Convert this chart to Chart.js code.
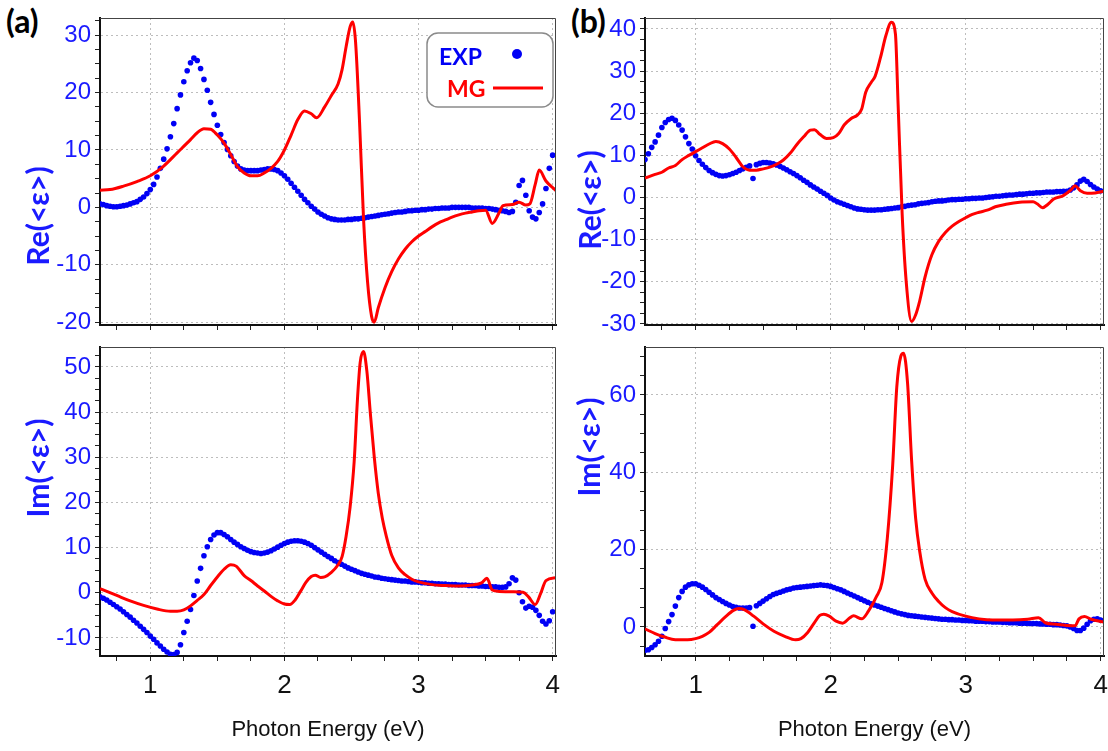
<!DOCTYPE html>
<html>
<head>
<meta charset="utf-8">
<script src="https://cdn.jsdelivr.net/npm/chart.js@4.4.1/dist/chart.umd.min.js"></script>
<style>
  body { margin: 0; background: #fff; width: 1108px; height: 751px; position: relative; overflow: hidden; }
  .panel { position: absolute; }
  .tag { position: absolute; font: bold 32px Lato, "Open Sans", sans-serif; color: #000; }
</style>
</head>
<body>
<div class="tag" style="left:6px;top:1px">(a)</div>
<div class="tag" style="left:571px;top:1px">(b)</div>
<div class="panel" style="left:0;top:0"><canvas id="reA" width="560" height="333"></canvas></div>
<div class="panel" style="left:0;top:335px"><canvas id="imA" width="560" height="416"></canvas></div>
<div class="panel" style="left:560px;top:0"><canvas id="reB" width="548" height="333"></canvas></div>
<div class="panel" style="left:560px;top:335px"><canvas id="imB" width="548" height="416"></canvas></div>

<script>
// photon energies of the measured (EXP) points, eV
var ENERGY = [0.625,0.65,0.675,0.7,0.725,0.75,0.775,0.8,0.825,0.85,0.875,0.9,0.925,0.95,0.975,
  1,1.025,1.05,1.075,1.1,1.125,1.15,1.175,1.2,1.225,1.25,1.275,1.3,1.325,1.35,1.375,1.4,1.425,1.45,1.475,
  1.5,1.525,1.55,1.575,1.6,1.625,1.65,1.675,1.7,1.725,1.75,1.775,1.8,1.825,1.85,1.875,1.9,1.925,1.95,1.975,
  2,2.025,2.05,2.075,2.1,2.125,2.15,2.175,2.2,2.225,2.25,2.275,2.3,2.325,2.35,2.375,2.4,2.425,2.45,2.475,
  2.5,2.525,2.55,2.575,2.6,2.625,2.65,2.675,2.7,2.725,2.75,2.775,2.8,2.825,2.85,2.875,2.9,2.925,2.95,2.975,
  3,3.025,3.05,3.075,3.1,3.125,3.15,3.175,3.2,3.225,3.25,3.275,3.3,3.325,3.35,3.375,3.4,3.425,3.45,3.475,
  3.5,3.525,3.55,3.575,3.6,3.625,3.65,3.675,3.7,3.725,3.75,3.775,3.8,3.825,3.85,3.875,3.9,3.925,3.95,3.975,
  4];

// (a) Re<eps>, experiment
var EXP_RE_A = [0.6,0.5,0.3,0.2,0.1,0.1,0.2,0.3,0.4,0.6,0.8,1.0,1.4,1.8,2.4,
  3.1,4.0,5.3,6.8,8.4,10.2,12.3,14.6,17.2,19.6,21.9,23.8,25.2,26.0,25.6,24.2,22.3,20.4,18.3,16.2,
  14.3,12.7,11.3,10.1,9.0,8.0,7.2,6.7,6.5,6.4,6.4,6.4,6.4,6.5,6.6,6.7,6.7,6.6,6.4,6.0,
  5.5,4.9,4.2,3.5,2.8,2.1,1.4,0.8,0.2,-0.3,-0.8,-1.2,-1.5,-1.8,-2.0,-2.1,-2.2,-2.2,-2.2,-2.1,
  -2.1,-2.0,-2.0,-1.9,-1.8,-1.7,-1.6,-1.5,-1.4,-1.3,-1.2,-1.1,-1.0,-0.9,-0.8,-0.8,-0.7,-0.6,-0.6,-0.5,
  -0.5,-0.4,-0.4,-0.3,-0.3,-0.2,-0.2,-0.1,-0.1,-0.1,0.0,0.0,0.0,0.0,0.0,0.0,-0.1,-0.1,-0.1,-0.1,
  -0.2,-0.2,-0.3,-0.4,-0.5,-0.6,-0.7,-0.9,-0.7,0.9,3.8,4.7,2.1,-0.6,-1.7,-2.0,-0.9,0.6,3.3,6.8,
  9.1];

// (a) Im<eps>, experiment
var EXP_IM_A = [-0.9,-1.2,-1.6,-2.1,-2.6,-3.1,-3.6,-4.2,-4.8,-5.4,-6.1,-6.7,-7.4,-8.1,-8.8,
  -9.6,-10.3,-11.1,-11.8,-12.5,-13.1,-13.6,-13.7,-13.2,-11.5,-8.8,-6.3,-3.7,-0.6,2.6,5.4,8.2,10.2,11.8,12.8,
  13.3,13.3,12.9,12.4,11.8,11.2,10.7,10.2,9.8,9.4,9.1,8.9,8.8,8.7,8.8,9.0,9.3,9.7,10.1,10.5,
  10.9,11.2,11.4,11.5,11.5,11.4,11.2,10.9,10.5,10.0,9.5,9.0,8.5,8.0,7.6,7.1,6.7,6.3,5.9,5.5,
  5.2,4.9,4.6,4.3,4.1,3.9,3.7,3.5,3.4,3.2,3.1,3.0,2.9,2.8,2.7,2.6,2.6,2.5,2.4,2.4,
  2.3,2.2,2.2,2.1,2.1,2.0,2.0,1.9,1.9,1.8,1.8,1.8,1.7,1.7,1.7,1.6,1.6,1.6,1.5,1.5,
  1.4,1.4,1.3,1.3,1.2,1.2,1.3,2.0,3.3,2.8,0.0,-2.0,-3.4,-3.0,-3.2,-3.9,-5.0,-6.3,-6.9,-6.2,
  -4.2];

// (b) Re<eps>, experiment
var EXP_RE_B = [9.0,10.4,11.9,13.2,14.8,16.6,17.8,18.5,18.8,18.3,17.2,16.0,14.4,12.8,11.5,
  9.9,8.8,7.9,7.1,6.4,5.9,5.5,5.2,5.1,5.2,5.4,5.7,6.0,6.4,6.8,7.2,7.5,4.5,7.8,8.1,
  8.3,8.3,8.2,8.0,7.7,7.4,7.0,6.6,6.1,5.7,5.2,4.7,4.1,3.6,3.0,2.5,2.0,1.5,1.0,0.5,
  -0.1,-0.6,-1.0,-1.3,-1.6,-1.9,-2.2,-2.5,-2.7,-2.8,-2.9,-3.0,-3.0,-3.0,-2.9,-2.9,-2.8,-2.7,-2.6,-2.5,
  -2.4,-2.2,-2.1,-1.9,-1.8,-1.7,-1.5,-1.4,-1.3,-1.2,-1.0,-0.9,-0.8,-0.8,-0.7,-0.6,-0.5,-0.5,-0.4,-0.4,
  -0.3,-0.3,-0.2,-0.2,-0.1,-0.1,0.0,0.1,0.2,0.3,0.3,0.4,0.5,0.6,0.6,0.7,0.8,0.8,0.9,1.0,
  1.0,1.1,1.1,1.2,1.3,1.3,1.3,1.4,1.4,1.5,1.5,1.8,2.3,3.0,3.9,4.3,3.8,3.1,2.5,2.0,
  1.6];

// (b) Im<eps>, experiment
var EXP_IM_B = [-6.0,-5.9,-5.3,-4.6,-3.7,-2.4,-0.4,1.4,3.2,5.4,7.6,9.2,10.3,10.9,11.2,
  11.2,10.8,10.3,9.7,9.0,8.3,7.6,7.1,6.6,6.1,5.7,5.3,5.1,4.9,4.9,4.9,5.0,0.2,5.5,6.1,
  6.7,7.3,7.9,8.4,8.7,9.0,9.3,9.6,9.8,10.1,10.2,10.3,10.4,10.5,10.6,10.7,10.8,10.9,10.8,10.7,
  10.5,10.2,9.9,9.6,9.2,8.8,8.4,8.0,7.6,7.2,6.8,6.4,6.0,5.7,5.4,5.1,4.8,4.5,4.2,3.9,
  3.6,3.4,3.2,3.0,2.9,2.8,2.7,2.6,2.5,2.4,2.3,2.2,2.1,2.0,2.0,1.9,1.9,1.8,1.8,1.7,
  1.7,1.6,1.6,1.5,1.5,1.5,1.4,1.4,1.3,1.3,1.3,1.2,1.2,1.1,1.1,1.1,1.0,1.0,1.0,0.9,
  0.9,0.9,0.8,0.8,0.7,0.7,0.6,0.6,0.5,0.4,0.3,0.0,-0.4,-0.9,-0.9,-0.3,0.7,1.6,2.0,2.1,
  1.8];

// Maxwell-Garnett model curves
var MG_RE_A_X = [0.625,0.7,0.8,0.9,1.0,1.1,1.2,1.3,1.35,1.4,1.45,1.5,1.55,1.6,1.65,1.7,1.75,1.8,1.85,1.9,
  1.95,2.0,2.05,2.1,2.15,2.2,2.24,2.3,2.35,2.4,2.43,2.46,2.49,2.51,2.53,2.56,2.59,2.62,2.65,2.67,
  2.7,2.75,2.8,2.85,2.9,2.95,3.0,3.05,3.1,3.15,3.2,3.25,3.3,3.35,3.4,3.45,3.5,3.55,3.6,3.63,
  3.7,3.75,3.8,3.83,3.87,3.9,3.95,4.025];
var MG_RE_A_Y = [3.0,3.1,3.7,4.5,5.5,7.2,9.5,11.8,13.0,13.7,13.6,12.6,11.2,9.2,7.1,6.0,5.5,5.5,6.0,6.8,
  8.0,10.0,12.6,15.3,16.8,16.3,15.6,17.5,19.5,21.5,24.0,28.0,31.5,32.3,29.0,15.0,-2.0,-13.0,-19.0,-20.0,
  -17.5,-14.0,-11.2,-9.0,-7.3,-6.0,-5.0,-4.2,-3.4,-2.7,-2.2,-1.7,-1.3,-1.0,-0.8,-0.6,-0.5,-2.8,-1.0,0.3,
  0.5,0.9,0.4,0.6,4.0,6.5,4.6,2.9];

var MG_IM_A_X = [0.625,0.75,0.85,0.95,1.05,1.15,1.2,1.25,1.3,1.35,1.4,1.45,1.5,1.55,1.6,1.64,1.7,1.75,1.8,1.85,
  1.9,1.95,2.0,2.04,2.08,2.12,2.16,2.2,2.23,2.27,2.3,2.35,2.4,2.43,2.46,2.49,2.52,2.545,2.565,2.59,
  2.615,2.64,2.67,2.7,2.73,2.76,2.8,2.85,2.9,2.95,3.0,3.1,3.2,3.3,3.4,3.47,3.51,3.55,3.6,3.7,
  3.78,3.82,3.87,3.91,3.95,4.025];
var MG_IM_A_Y = [0.9,-0.6,-1.8,-2.8,-3.6,-4.1,-4.1,-3.8,-2.9,-1.7,-0.4,1.6,3.5,5.2,6.2,5.9,3.8,2.7,1.5,0.4,
  -0.8,-1.8,-2.5,-2.6,-1.6,0.3,2.3,3.6,3.9,3.4,3.5,4.5,6.2,8.0,12.5,19.0,29.0,43.0,51.0,53.4,
  49.0,40.0,30.0,22.0,16.5,12.5,8.3,5.5,4.0,3.0,2.4,1.8,1.6,1.5,1.7,2.2,3.2,0.6,0.3,0.2,
  0.1,-0.9,-2.6,-0.2,2.7,3.3];

var MG_RE_B_X = [0.625,0.7,0.75,0.8,0.85,0.9,0.95,1.0,1.05,1.1,1.15,1.2,1.25,1.3,1.35,1.4,1.45,1.5,1.55,1.6,
  1.65,1.7,1.75,1.8,1.85,1.88,1.92,1.97,2.02,2.06,2.1,2.15,2.2,2.23,2.26,2.3,2.33,2.37,2.41,2.45,
  2.48,2.5,2.53,2.56,2.6,2.63,2.66,2.7,2.75,2.8,2.85,2.9,2.95,3.0,3.05,3.1,3.16,3.22,3.3,3.4,
  3.5,3.53,3.57,3.61,3.65,3.72,3.78,3.81,3.85,3.9,3.96,4.025];
var MG_RE_B_Y = [4.6,5.5,6.0,7.0,7.6,9.0,10.0,10.9,11.8,12.7,13.3,12.8,11.5,9.5,7.3,6.5,6.5,6.8,7.2,7.9,
  8.9,10.5,12.6,14.4,16.0,16.1,15.0,14.0,14.2,15.2,17.2,18.7,19.6,21.0,25.0,27.3,28.8,33.3,38.5,41.6,
  38.8,22.0,-4.0,-20.0,-29.4,-27.8,-24.5,-18.8,-13.6,-10.4,-8.3,-6.8,-5.7,-4.8,-4.0,-3.5,-3.0,-2.2,-1.6,-1.1,
  -1.0,-1.5,-2.4,-1.6,-0.4,0.4,1.8,2.8,1.6,1.0,1.1,1.5];

var MG_IM_B_X = [0.625,0.7,0.77,0.85,0.94,1.0,1.05,1.1,1.16,1.22,1.28,1.32,1.36,1.43,1.5,1.58,1.66,1.74,1.78,1.83,
  1.87,1.92,1.95,1.99,2.04,2.09,2.14,2.17,2.23,2.28,2.34,2.38,2.42,2.46,2.49,2.52,2.54,2.57,2.6,2.63,
  2.66,2.7,2.75,2.8,2.85,2.9,3.0,3.1,3.2,3.35,3.46,3.54,3.59,3.67,3.75,3.81,3.84,3.88,3.93,4.025];
var MG_IM_B_Y = [-0.5,-1.7,-2.6,-3.3,-3.3,-3.0,-2.4,-1.4,0.6,2.6,4.3,4.8,4.5,2.8,0.8,-1.1,-2.4,-3.3,-3.0,-1.4,
  0.6,3.0,3.3,2.8,1.5,1.0,2.3,2.9,2.1,4.1,7.9,11.5,23.0,42.0,62.0,70.0,70.8,63.0,43.0,28.0,
  19.5,12.3,8.8,6.6,5.0,4.0,2.8,2.1,1.8,1.8,2.0,2.4,1.1,0.7,0.4,0.3,2.1,2.7,2.0,1.3];

// axis labels
var X_MAJOR = [1, 2, 3, 4];
var Y_MAJOR_RE_A = [-20, -10, 0, 10, 20, 30];
var Y_MAJOR_IM_A = [-10, 0, 10, 20, 30, 40, 50];
var Y_MAJOR_RE_B = [-30, -20, -10, 0, 10, 20, 30, 40];
var Y_MAJOR_IM_B = [0, 20, 40, 60];

var BLUE = '#0000f5';
var BLUE_TEXT = '#1a1aff';
var RED = '#ff0000';
var GRID = '#bdbdbd';
var NARROW = "'Liberation Sans Narrow', 'Arial Narrow', 'Liberation Sans', sans-serif";

function tickList(lo, hi, step) {
    var t = [];
    for (var v = lo; v <= hi + 1e-9; v += step) t.push(Math.round(v * 1000) / 1000);
    return t;
}

function pairs(xs, ys) {
    return xs.map(function(x, i) { return {x: x, y: ys[i]}; });
}

// frame, rotated y title and (optionally) the legend box
var decor = {
    id: 'decor',
    afterDraw: function(chart, args, o) {
        var ctx = chart.ctx, a = chart.chartArea;
        ctx.save();
        ctx.strokeStyle = '#444';
        ctx.lineWidth = 1;
        ctx.beginPath();
        ctx.moveTo(a.left, a.top + 0.5);
        ctx.lineTo(a.right - 0.5, a.top + 0.5);
        ctx.lineTo(a.right - 0.5, a.bottom);
        ctx.stroke();

        if (o.legend) {
            ctx.strokeStyle = '#8a8a8a';
            ctx.lineWidth = 1.5;
            ctx.fillStyle = '#fff';
            ctx.beginPath();
            ctx.roundRect(427, 33, 126, 74, 11);
            ctx.fill();
            ctx.stroke();
            ctx.font = 'bold 23px Lato, sans-serif';
            ctx.textBaseline = 'alphabetic';
            ctx.textAlign = 'left';
            ctx.fillStyle = BLUE;
            ctx.fillText('EXP', 439, 65);
            ctx.beginPath();
            ctx.arc(517, 54, 5, 0, Math.PI * 2);
            ctx.fill();
            ctx.fillStyle = RED;
            ctx.fillText('MG', 447, 97);
            ctx.strokeStyle = RED;
            ctx.lineWidth = 3;
            ctx.beginPath();
            ctx.moveTo(493, 88);
            ctx.lineTo(543, 88);
            ctx.stroke();
        }

        ctx.translate(o.titleX, o.titleY);
        ctx.rotate(-Math.PI / 2);
        ctx.font = 'bold 30px Lato, sans-serif';
        ctx.fillStyle = BLUE_TEXT;
        ctx.textAlign = 'center';
        ctx.textBaseline = 'middle';
        ctx.fillText(o.title, 0, 0);
        ctx.restore();
    }
};

function makePanel(id, p) {
    var yTicks = tickList(p.yLo, p.yHi, p.yStep);
    var xTicks = tickList(0.75, 4, 0.25);
    var gridColor = function(major) {
        return function(c) {
            return c.tick && major.indexOf(c.tick.value) >= 0 ? GRID : 'rgba(0,0,0,0)';
        };
    };

    new Chart(document.getElementById(id), {
        type: 'scatter',
        data: {
            datasets: [{
                label: 'MG',
                data: pairs(p.mgX, p.mgY),
                showLine: true,
                borderColor: RED,
                borderWidth: 3,
                pointRadius: 0,
                cubicInterpolationMode: 'monotone'
            }, {
                label: 'EXP',
                data: pairs(ENERGY, p.exp),
                showLine: false,
                pointRadius: 2.8,
                pointBorderWidth: 0,
                pointBackgroundColor: BLUE
            }]
        },
        options: {
            responsive: false,
            animation: false,
            events: [],
            layout: { padding: { left: 0, right: p.padRight, top: p.padTop, bottom: 0 } },
            plugins: {
                legend: { display: false },
                tooltip: { enabled: false },
                decor: { title: p.title, titleX: p.titleX, titleY: p.titleY, legend: !!p.legend }
            },
            scales: {
                x: {
                    type: 'linear',
                    min: 0.625,
                    max: 4.025,
                    afterBuildTicks: function(s) { s.ticks = xTicks.map(function(v) { return {value: v}; }); },
                    afterFit: function(s) { s.height = p.xH; s.paddingLeft = 0; s.paddingRight = 0; },
                    ticks: {
                        autoSkip: false,
                        maxRotation: 0,
                        padding: 9,
                        color: '#111',
                        font: { family: NARROW, size: 26 },
                        callback: function(v) { return p.xLabels && X_MAJOR.indexOf(v) >= 0 ? String(v) : ''; }
                    },
                    grid: { color: gridColor(X_MAJOR), tickColor: '#222', tickLength: 5, lineWidth: 1 },
                    border: { color: '#111', width: 2, dash: [2, 3] },
                    title: {
                        display: !!p.xLabels,
                        text: 'Photon Energy (eV)',
                        color: '#111',
                        font: { family: NARROW, size: 22 },
                        padding: { top: 0, bottom: 8 }
                    }
                },
                y: {
                    min: p.yMin,
                    max: p.yMax,
                    afterBuildTicks: function(s) { s.ticks = yTicks.map(function(v) { return {value: v}; }); },
                    afterFit: function(s) { s.width = p.yW; s.paddingTop = 0; s.paddingBottom = 0; },
                    ticks: {
                        autoSkip: false,
                        padding: 4,
                        color: BLUE_TEXT,
                        font: { family: NARROW, size: 24 },
                        callback: function(v) { return p.yMajor.indexOf(v) >= 0 ? String(v) : ''; }
                    },
                    grid: { color: gridColor(p.yMajor), tickColor: '#222', tickLength: 5, lineWidth: 1 },
                    border: { color: '#111', width: 2, dash: [2, 3] }
                }
            }
        },
        plugins: [decor]
    });
}

makePanel('reA', {
    exp: EXP_RE_A, mgX: MG_RE_A_X, mgY: MG_RE_A_Y,
    yMin: -20.5, yMax: 33, yLo: -20, yHi: 32.5, yStep: 2.5, yMajor: Y_MAJOR_RE_A,
    yW: 100, xH: 8, padTop: 18, padRight: 4, xLabels: false,
    title: 'Re(<\u03b5>)', titleX: 39, titleY: 216, legend: true
});
makePanel('imA', {
    exp: EXP_IM_A, mgX: MG_IM_A_X, mgY: MG_IM_A_Y,
    yMin: -14, yMax: 54.4, yLo: -12.5, yHi: 52.5, yStep: 2.5, yMajor: Y_MAJOR_IM_A,
    yW: 100, xH: 95, padTop: 12, padRight: 4, xLabels: true,
    title: 'Im(<\u03b5>)', titleX: 39, titleY: 133
});
makePanel('reB', {
    exp: EXP_RE_B, mgX: MG_RE_B_X, mgY: MG_RE_B_Y,
    yMin: -30.25, yMax: 42.6, yLo: -30, yHi: 42.5, yStep: 2.5, yMajor: Y_MAJOR_RE_B,
    yW: 85, xH: 8, padTop: 18, padRight: 3, xLabels: false,
    title: 'Re(<\u03b5>)', titleX: 31, titleY: 200
});
makePanel('imB', {
    exp: EXP_IM_B, mgX: MG_IM_B_X, mgY: MG_IM_B_Y,
    yMin: -7.5, yMax: 72.4, yLo: -5, yHi: 70, yStep: 5, yMajor: Y_MAJOR_IM_B,
    yW: 85, xH: 95, padTop: 12, padRight: 3, xLabels: true,
    title: 'Im(<\u03b5>)', titleX: 30, titleY: 112
});
</script>
</body>
</html>
